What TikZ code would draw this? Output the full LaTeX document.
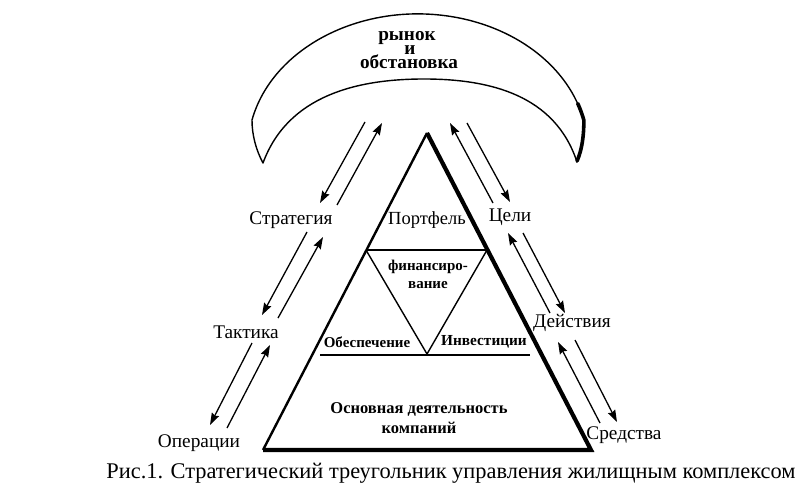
\documentclass[tikz,border=0pt]{standalone}
\usepackage{fontspec}
\setmainfont{Liberation Serif}
\usetikzlibrary{arrows.meta}
\begin{document}
\begin{tikzpicture}[x=1pt,y=-1pt,
  lbl/.style={inner sep=0pt,font=\fontsize{19.3}{21}\selectfont},
  ilbl/.style={inner sep=0pt,font=\fontsize{15}{17}\selectfont\bfseries},
  mktlbl/.style={inner sep=0pt,anchor=base,font=\fontsize{19.2}{20}\selectfont\bfseries},
  arr/.style={line width=1.3pt,-{Stealth[length=12pt,width=8pt,inset=1.5pt]}},
  thin/.style={line width=1.4pt}]
\useasboundingbox (0,0) rectangle (805,495);
% crescent
\draw[line width=1.4pt,line join=round]
  (263,163) .. controls (256,150) and (252,135) .. (252,120)
  arc[start angle=192.7,end angle=347.3,x radius=170,y radius=136]
  .. controls (584,135) and (582,150) .. (577,162)
  .. controls (555,95) and (490,79) .. (424,79)
  .. controls (358,79) and (288,95) .. (263,163) -- cycle;
\draw[line width=3.6pt,line cap=round]
  (418,150) ++(340:170 and 136)
  arc[start angle=340,end angle=347.3,x radius=170,y radius=136]
  .. controls (584,135) and (582,150) .. (577,161);
\node[mktlbl] (mkt1) at (407,40.7) {рынок};
\node[mktlbl] (mkt2) at (410,55) {и};
\node[mktlbl] (mkt3) at (409,68.3) {обстановка};
% triangle
\coordinate (apex) at (427,133);
\coordinate (bl) at (263,450);
\coordinate (br) at (591,450);
\draw[line width=2.4pt] (bl) -- (apex);
\draw[line width=4.2pt,line join=miter] (apex) -- (br) -- (bl);
\coordinate (h1l) at (366,250);
\coordinate (h1r) at (487,250);
\coordinate (vtip) at (427,354);
\coordinate (h2l) at (320,355);
\coordinate (h2r) at (530,355);
\draw[thin] (h1l) -- (h1r);
\draw[thin,line join=miter] (h1l) -- (vtip) -- (h1r);
\draw[thin] (h2l) -- (h2r);
% inner labels
\node[lbl,font=\fontsize{18.5}{20}\selectfont] (portf) at (427,220) {Портфель};
\node[ilbl,align=center,font=\fontsize{15}{18}\selectfont\bfseries] (fin) at (428,274) {финансиро-\\вание};
\node[ilbl] (obesp) at (367,342) {Обеспечение};
\node[ilbl,font=\fontsize{15.3}{17}\selectfont\bfseries] (invest) at (484,342) {Инвестиции};
\node[ilbl,align=center,font=\fontsize{16.5}{20}\selectfont\bfseries] (osn) at (419,418) {Основная деятельность\\компаний};
% outer labels
\node[lbl] (strat) at (291,220) {Стратегия};
\node[lbl] (takt) at (246,332) {Тактика};
\node[lbl] (oper) at (199,443) {Операции};
\node[lbl] (goal) at (510,217) {Цели};
\node[lbl] (act) at (572,323) {Действия};
\node[lbl] (means) at (624,435) {Средства};
% arrow end points
\coordinate (a1s) at (365,122); \coordinate (a1e) at (320,203);
\coordinate (a2s) at (337,205); \coordinate (a2e) at (382,123);
\coordinate (a3s) at (307,232); \coordinate (a3e) at (262,315);
\coordinate (a4s) at (278,318); \coordinate (a4e) at (323,237);
\coordinate (a5s) at (252,343); \coordinate (a5e) at (210,425);
\coordinate (a6s) at (227,428); \coordinate (a6e) at (270,345);
\coordinate (b1s) at (493,203); \coordinate (b1e) at (450,123);
\coordinate (b2s) at (467,123); \coordinate (b2e) at (510,202);
\coordinate (b3s) at (550,313); \coordinate (b3e) at (508,233);
\coordinate (b4s) at (523,233); \coordinate (b4e) at (565,313);
\coordinate (b5s) at (600,423); \coordinate (b5e) at (558,342);
\coordinate (b6s) at (575,340); \coordinate (b6e) at (617,422);
\foreach \p in {a1,a2,a3,a4,a5,a6,b1,b2,b3,b4,b5,b6}
  \draw[arr] (\p s) -- (\p e);
% caption
\node[inner sep=0pt,font=\fontsize{22.4}{24}\selectfont] (cap) at (451,473) {Рис.1. Стратегический треугольник управления жилищным комплексом};
\end{tikzpicture}
\end{document}
